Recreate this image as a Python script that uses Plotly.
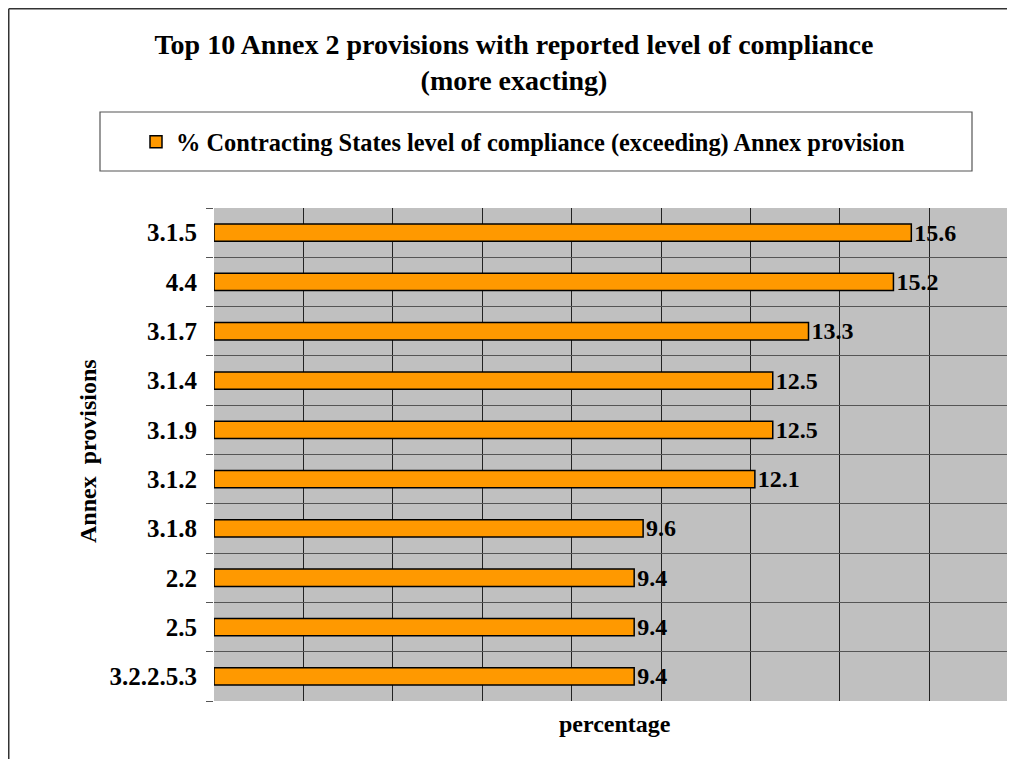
import plotly.graph_objects as go

# data
provisions = ["3.1.5", "4.4", "3.1.7", "3.1.4", "3.1.9", "3.1.2", "3.1.8", "2.2", "2.5", "3.2.2.5.3"]
percent_exceeding = [15.6, 15.2, 13.3, 12.5, 12.5, 12.1, 9.6, 9.4, 9.4, 9.4]
series_name = "% Contracting States level of compliance (exceeding) Annex provision"

FONT = "Liberation Serif"
OFF = 8  # page body margin: the figure starts 8px into the window
W, H = 1015 - OFF, 759 - OFF
# target plot area in window pixels: x 214..1015, y 208..701
L, R, T, B = 214 - OFF, 0, 208 - OFF, H - (701 - OFF)
PW, PH = W - L - R, H - T - B


def px_x(px):
    """window column -> paper x"""
    return (px - OFF - L) / PW


def px_y(py):
    """window row -> paper y"""
    return (H - B - (py - OFF)) / PH


fig = go.Figure()
fig.add_trace(go.Bar(
    x=percent_exceeding,
    y=provisions,
    orientation="h",
    name=series_name,
    width=0.35,
    marker=dict(color="#FF9900", line=dict(color="#000000", width=1.5)),
    text=[f"{v:.1f}" for v in percent_exceeding],
    textposition="outside",
    constraintext="none",
    textfont=dict(family=FONT, size=24, color="#000000", weight="bold"),
    cliponaxis=False,
    showlegend=True,
))

fig.update_layout(
    width=W,
    height=H,
    margin=dict(l=L, r=R, t=T, b=B, pad=0, autoexpand=False),
    paper_bgcolor="#FFFFFF",
    plot_bgcolor="#C0C0C0",
    font=dict(family=FONT, color="#000000"),
    title=dict(
        text="Top 10 Annex 2 provisions with reported level of compliance<br>(more exacting)",
        x=(514 - OFF) / W, xanchor="center",
        y=1 - 46 / H, yanchor="middle", yref="container",
        font=dict(family=FONT, size=28, color="#000000", weight="bold"),
    ),
    showlegend=True,
    legend=dict(
        x=px_x(136), xanchor="left",
        y=px_y(142), yanchor="middle",
        bgcolor="rgba(0,0,0,0)",
        borderwidth=0,
        itemwidth=30,
        font=dict(family=FONT, size=24.4, color="#000000", weight="bold"),
    ),
)

fig.update_xaxes(
    range=[0, PW / 44.7],
    dtick=2,
    showticklabels=False,
    showgrid=True,
    gridcolor="#222222",
    gridwidth=1,
    zeroline=False,
    showline=False,
    ticks="",
    fixedrange=True,
)

fig.update_yaxes(
    type="category",
    categoryorder="array",
    categoryarray=provisions[::-1],
    tickson="boundaries",
    ticks="outside",
    ticklen=7,
    tickcolor="#555555",
    ticklabelstandoff=16,
    showgrid=True,
    gridcolor="#555555",
    gridwidth=1,
    showline=False,
    zeroline=False,
    automargin=False,
    tickfont=dict(family=FONT, size=25, color="#000000", weight="bold"),
    fixedrange=True,
)

# axis titles
fig.add_annotation(
    text="Annex  provisions", textangle=-90,
    xref="paper", yref="paper", x=px_x(88), y=px_y(451),
    xanchor="center", yanchor="middle", showarrow=False,
    font=dict(family=FONT, size=24, color="#000000", weight="bold"),
)
fig.add_annotation(
    text="percentage",
    xref="paper", yref="paper", x=px_x(615), y=px_y(724),
    xanchor="center", yanchor="middle", showarrow=False,
    font=dict(family=FONT, size=24, color="#000000", weight="bold"),
)

# chart frame: only its top and left edges are inside the picture
edge = OFF + 0.75
fig.add_shape(type="line", xref="paper", yref="paper", layer="below",
              x0=px_x(edge), x1=px_x(1060), y0=px_y(edge), y1=px_y(edge),
              line=dict(color="#333333", width=1.5))
fig.add_shape(type="line", xref="paper", yref="paper", layer="below",
              x0=px_x(edge), x1=px_x(edge), y0=px_y(edge), y1=px_y(800),
              line=dict(color="#333333", width=1.5))
# legend box
fig.add_shape(type="rect", xref="paper", yref="paper", layer="below",
              x0=px_x(100), x1=px_x(972), y0=px_y(171), y1=px_y(112),
              line=dict(color="#555555", width=1.2), fillcolor="#FFFFFF")

fig.write_html("out.html")
